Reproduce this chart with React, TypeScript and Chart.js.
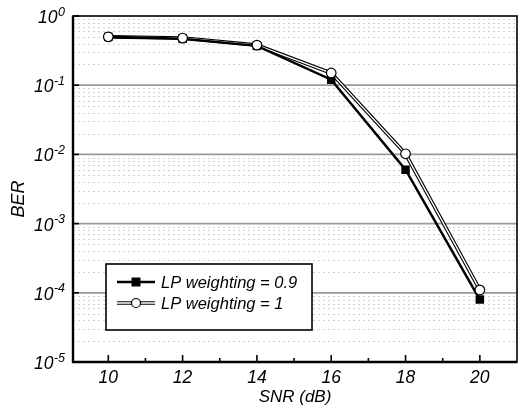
import React, { useEffect, useRef } from 'react';
import { Chart, registerables } from 'chart.js';

Chart.register(...registerables);

const snr = [10, 12, 14, 16, 18, 20];
const berLP09 = [0.5, 0.47, 0.37, 0.12, 0.006, 8e-5];
const berLP1 = [0.5, 0.48, 0.38, 0.15, 0.0102, 1.1e-4];
const seriesLabels = ['LP weighting = 0.9', 'LP weighting = 1'];
const xMajorTicks = [10, 12, 14, 16, 18, 20];
const xMinorTicks = [11, 13, 15, 17, 19];
const yDecades = [0, -1, -2, -3, -4, -5];
const xTitle = 'SNR (dB)';
const yTitle = 'BER';

const FONT = "'Liberation Sans', Arial, Helvetica, sans-serif";

const decorPlugin = {
  id: 'decor',
  beforeDatasetsDraw(chart: any) {
    const { ctx, chartArea: a, scales } = chart;
    const ys = scales.y;
    ctx.save();
    // minor dotted grid
    ctx.strokeStyle = '#d2d2d2';
    ctx.lineWidth = 1;
    ctx.setLineDash([2, 3]);
    for (let d = -5; d < 0; d++) {
      for (let m = 2; m <= 9; m++) {
        const py = Math.round(ys.getPixelForValue(m * Math.pow(10, d))) + 0.5;
        ctx.beginPath();
        ctx.moveTo(a.left, py);
        ctx.lineTo(a.right, py);
        ctx.stroke();
      }
    }
    ctx.setLineDash([]);
    // major grid
    ctx.strokeStyle = '#9a9a9a';
    ctx.lineWidth = 1.8;
    for (const k of yDecades) {
      if (k === 0 || k === -5) continue;
      const py = ys.getPixelForValue(Math.pow(10, k));
      ctx.beginPath();
      ctx.moveTo(a.left, py);
      ctx.lineTo(a.right, py);
      ctx.stroke();
    }
    ctx.restore();
  },
  afterDatasetsDraw(chart: any) {
    const { ctx, chartArea: a, scales } = chart;
    const xs = scales.x;
    const ys = scales.y;
    ctx.save();
    // frame
    ctx.strokeStyle = '#000';
    ctx.lineWidth = 1.6;
    ctx.strokeRect(a.left, a.top, a.right - a.left, a.bottom - a.top);
    ctx.lineWidth = 2.4;
    ctx.beginPath();
    ctx.moveTo(a.left, a.top);
    ctx.lineTo(a.left, a.bottom);
    ctx.lineTo(a.right, a.bottom);
    ctx.stroke();
    // x ticks (inward)
    ctx.lineWidth = 1.6;
    for (const v of xMajorTicks) {
      const px = xs.getPixelForValue(v);
      ctx.beginPath();
      ctx.moveTo(px, a.bottom);
      ctx.lineTo(px, a.bottom - 7);
      ctx.stroke();
    }
    for (const v of xMinorTicks) {
      const px = xs.getPixelForValue(v);
      ctx.beginPath();
      ctx.moveTo(px, a.bottom);
      ctx.lineTo(px, a.bottom - 4);
      ctx.stroke();
    }
    // y ticks (inward) and labels
    ctx.fillStyle = '#000';
    for (const k of yDecades) {
      const py = ys.getPixelForValue(Math.pow(10, k));
      ctx.beginPath();
      ctx.moveTo(a.left, py);
      ctx.lineTo(a.left + 6, py);
      ctx.stroke();
      const exp = k === 0 ? '0' : '-' + Math.abs(k);
      const right = a.left - 8;
      ctx.font = `italic 12.5px ${FONT}`;
      ctx.textAlign = 'left';
      ctx.textBaseline = 'alphabetic';
      const ew = ctx.measureText(exp).width;
      ctx.fillText(exp, right - ew, py - 0.5);
      ctx.font = `italic 17.5px ${FONT}`;
      ctx.textAlign = 'right';
      ctx.fillText('10', right - ew - 0.5, py + 7);
    }
    // y title
    ctx.save();
    ctx.translate(19, 199);
    ctx.rotate(-Math.PI / 2);
    ctx.font = `italic 18px ${FONT}`;
    ctx.textAlign = 'center';
    ctx.textBaseline = 'middle';
    ctx.fillText(yTitle, 0, 0);
    ctx.restore();
    // legend
    const bx = 106, by = 264, bw = 206, bh = 66;
    ctx.fillStyle = '#fff';
    ctx.fillRect(bx, by, bw, bh);
    ctx.strokeStyle = '#000';
    ctx.lineWidth = 1.6;
    ctx.strokeRect(bx, by, bw, bh);
    const rows = [282, 303];
    const lx0 = 117, lx1 = 155, lm = 136;
    // row 1
    ctx.lineWidth = 2.5;
    ctx.beginPath();
    ctx.moveTo(lx0, rows[0]);
    ctx.lineTo(lx1, rows[0]);
    ctx.stroke();
    ctx.fillStyle = '#000';
    ctx.fillRect(lm - 4.5, rows[0] - 4.5, 9, 9);
    // row 2
    ctx.lineWidth = 3.6;
    ctx.beginPath();
    ctx.moveTo(lx0, rows[1]);
    ctx.lineTo(lx1, rows[1]);
    ctx.stroke();
    ctx.strokeStyle = '#fff';
    ctx.lineWidth = 1.4;
    ctx.beginPath();
    ctx.moveTo(lx0, rows[1]);
    ctx.lineTo(lx1, rows[1]);
    ctx.stroke();
    ctx.beginPath();
    ctx.arc(lm, rows[1], 4.5, 0, Math.PI * 2);
    ctx.fillStyle = '#fff';
    ctx.fill();
    ctx.strokeStyle = '#000';
    ctx.lineWidth = 1.2;
    ctx.stroke();
    ctx.fillStyle = '#000';
    ctx.font = `italic 16.5px ${FONT}`;
    ctx.textAlign = 'left';
    ctx.textBaseline = 'middle';
    ctx.fillText(seriesLabels[0], 161, rows[0] + 1);
    ctx.fillText(seriesLabels[1], 161, rows[1] + 1);
    ctx.restore();
  },
};

export default function App() {
  const ref = useRef<HTMLCanvasElement | null>(null);
  useEffect(() => {
    document.body.style.margin = '0';
    const canvas = ref.current;
    if (!canvas) return;
    const pts = (ys: number[]) => snr.map((x, i) => ({ x, y: ys[i] }));
    const chart = new Chart(canvas, {
      type: 'line',
      data: {
        datasets: [
          {
            label: seriesLabels[1] + ' outline',
            data: pts(berLP1),
            borderColor: '#000',
            borderWidth: 3.6,
            pointRadius: 0,
            order: 4,
          },
          {
            label: seriesLabels[1] + ' inner',
            data: pts(berLP1),
            borderColor: '#fff',
            borderWidth: 1.4,
            pointRadius: 0,
            order: 3,
          },
          {
            label: seriesLabels[0],
            data: pts(berLP09),
            borderColor: '#000',
            backgroundColor: '#000',
            borderWidth: 2.5,
            pointStyle: 'rect',
            pointRadius: 6,
            pointBorderWidth: 0,
            pointBackgroundColor: '#000',
            order: 2,
          },
          {
            label: seriesLabels[1],
            data: pts(berLP1),
            showLine: false,
            pointStyle: 'circle',
            pointRadius: 4.8,
            pointBorderWidth: 1.2,
            pointBorderColor: '#000',
            pointBackgroundColor: '#fff',
            order: 1,
          },
        ],
      },
      options: {
        animation: false,
        responsive: false,
        maintainAspectRatio: false,
        devicePixelRatio: 1,
        layout: { padding: { top: 16, right: 2, left: 0, bottom: 0 } },
        plugins: { legend: { display: false }, tooltip: { enabled: false } },
        elements: { line: { tension: 0 } },
        scales: {
          x: {
            type: 'linear',
            min: 9.05,
            max: 21,
            afterBuildTicks: (s: any) => {
              s.ticks = xMajorTicks.map((v) => ({ value: v }));
            },
            afterFit: (s: any) => {
              s.height = 49;
            },
            grid: { display: false, drawTicks: false },
            border: { display: false },
            ticks: {
              autoSkip: false,
              maxRotation: 0,
              padding: 6,
              color: '#000',
              font: { family: FONT, size: 17.5, style: 'italic' },
              callback: (v: any) => String(v),
            },
            title: {
              display: true,
              text: xTitle,
              color: '#000',
              font: { family: FONT, size: 17, style: 'italic' },
              padding: { top: 0, bottom: 4 },
            },
          },
          y: {
            type: 'logarithmic',
            min: 1e-5,
            max: 1,
            afterFit: (s: any) => {
              s.width = 73;
            },
            grid: { display: false, drawTicks: false },
            border: { display: false },
            ticks: { display: false },
          },
        },
      },
      plugins: [decorPlugin],
    } as any);
    return () => chart.destroy();
  }, []);
  return (
    <div style={{ width: 523, height: 411, background: '#fff' }}>
      <canvas ref={ref} width={523} height={411} style={{ display: 'block' }} />
    </div>
  );
}
